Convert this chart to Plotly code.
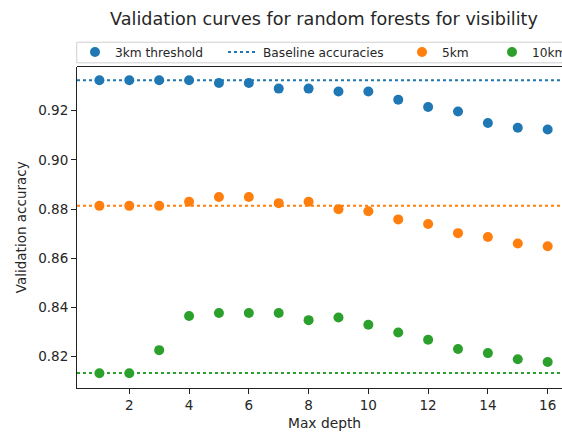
import plotly.graph_objects as go

# Validation accuracy of random forests by max tree depth, per visibility threshold
max_depth = list(range(1, 17))
acc_3km = [0.9324, 0.9324, 0.9324, 0.9324, 0.9313, 0.9313, 0.9290, 0.9290,
           0.9278, 0.9278, 0.9245, 0.9215, 0.9197, 0.9150, 0.9131, 0.9124]
acc_5km = [0.8813, 0.8813, 0.8813, 0.8830, 0.8849, 0.8849, 0.8824, 0.8830,
           0.8799, 0.8791, 0.8758, 0.8739, 0.8702, 0.8686, 0.8660, 0.8649]
acc_10km = [0.8132, 0.8132, 0.8226, 0.8365, 0.8377, 0.8377, 0.8377, 0.8348,
            0.8359, 0.8329, 0.8298, 0.8268, 0.8231, 0.8214, 0.8189, 0.8178]
baseline = {"3km": 0.9324, "5km": 0.8813, "10km": 0.8133}

x_ticks = [2, 4, 6, 8, 10, 12, 14, 16]
y_ticks = [0.82, 0.84, 0.86, 0.88, 0.90, 0.92]

BLUE, ORANGE, GREEN = "#1f77b4", "#ff7f0e", "#2ca02c"
FONT = "DejaVu Sans"
TXT = "#262626"
W, H = 562, 433
L, T, B = 77, 66, 45
PLOT_H = H - T - B
x_range = [0.25, 16.48]

fig = go.Figure()

def baseline_trace(value, color, name, legend=None, show=False):
    return go.Scatter(
        x=x_range, y=[value, value], mode="lines", name=name,
        line=dict(color=color, width=2, dash="dot"),
        showlegend=show, legend=legend, hoverinfo="skip",
    )

def points(y, color, name, legend):
    return go.Scatter(
        x=max_depth, y=y, mode="markers", name=name, legend=legend,
        marker=dict(color=color, size=10, line=dict(width=0)),
    )

fig.add_trace(baseline_trace(baseline["3km"], BLUE, "Baseline accuracies", "legend2", True))
fig.add_trace(baseline_trace(baseline["5km"], ORANGE, "5km baseline"))
fig.add_trace(baseline_trace(baseline["10km"], GREEN, "10km baseline"))
fig.add_trace(points(acc_3km, BLUE, "3km threshold", "legend"))
fig.add_trace(points(acc_5km, ORANGE, "5km", "legend3"))
fig.add_trace(points(acc_10km, GREEN, "10km", "legend4"))

legend_y = 1 - 52 / H
def legend_at(px):
    return dict(
        x=px / W, xref="container", xanchor="left",
        y=legend_y, yref="container", yanchor="middle",
        orientation="h", bgcolor="rgba(0,0,0,0)", borderwidth=0,
        font=dict(family=FONT, size=12.2, color=TXT),
        itemclick=False, itemdoubleclick=False,
    )

axis_common = dict(
    showgrid=False, zeroline=False, showline=True, linecolor="#222222", linewidth=1,
    ticks="outside", ticklen=5, tickwidth=1, tickcolor="#222222",
    tickfont=dict(family=FONT, size=13.5, color=TXT),
)

def py(pixel_y):
    """Convert a page y pixel to paper coordinates."""
    return (H - B - pixel_y) / PLOT_H

fig.update_layout(
    width=W, height=H,
    margin=dict(l=L, r=0, t=T, b=B, pad=0),
    paper_bgcolor="white", plot_bgcolor="white",
    title=dict(
        text="Validation curves for random forests for visibility",
        x=324 / W, xref="container", xanchor="center",
        y=1 - 19 / H, yref="container", yanchor="middle",
        font=dict(family=FONT, size=17.6, color=TXT),
    ),
    xaxis=dict(range=x_range, tickvals=x_ticks, **axis_common),
    yaxis=dict(
        range=[0.8072, 0.938], tickvals=y_ticks, tickformat=".2f",
        title=dict(text="Validation accuracy", standoff=8,
                   font=dict(family=FONT, size=13.5, color=TXT)),
        **axis_common,
    ),
    legend=legend_at(75),
    legend2=legend_at(223),
    legend3=legend_at(402),
    legend4=legend_at(492),
    showlegend=True,
    shapes=[
        # top spine of the axes
        dict(type="line", xref="paper", yref="paper", x0=0, x1=1, y0=1, y1=1,
             line=dict(color="#222222", width=1)),
        # legend frame
        dict(type="rect", xref="paper", yref="paper",
             x0=-0.0006, x1=1.05, y0=py(62.3), y1=py(41.7),
             line=dict(color="#d0d0d0", width=1), fillcolor="rgba(255,255,255,0)"),
    ],
    annotations=[
        dict(text="Max depth", xref="paper", yref="paper",
             x=(324 - L) / (W - L), y=py(423), xanchor="center", yanchor="middle",
             showarrow=False, font=dict(family=FONT, size=13.8, color=TXT)),
    ],
)

fig.write_html("out.html")
